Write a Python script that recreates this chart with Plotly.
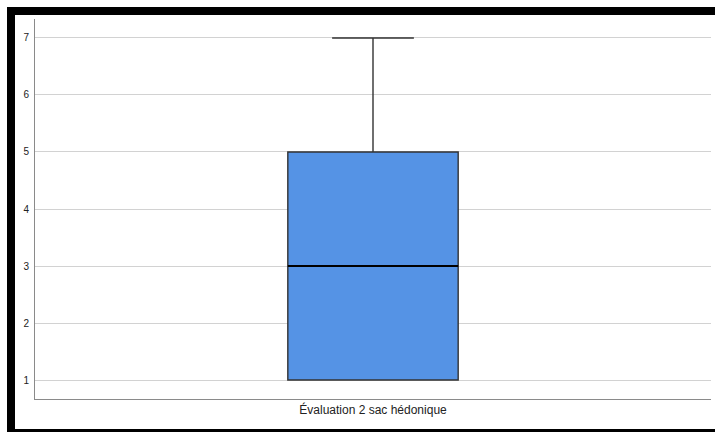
import plotly.graph_objects as go

category = ["Évaluation 2 sac hédonique"]
q1 = [1]
median = [3]
q3 = [5]
lower_fence = [1]
upper_fence = [7]
y_ticks = [1, 2, 3, 4, 5, 6, 7]

W, H = 715, 432
L, R, T, B = 35, 4, 19, 33
pw, ph = W - L - R, H - T - B
BOX_W = 0.252

def px_x(p):
    return (p - L) / pw

def px_y(p):
    return (H - B - p) / ph

fig = go.Figure()
fig.add_trace(go.Box(
    x=category,
    q1=q1, median=median, q3=q3,
    lowerfence=lower_fence, upperfence=upper_fence,
    fillcolor="#5593E5",
    line=dict(color="#333333", width=1.4),
    width=BOX_W,
    whiskerwidth=0.48,
    boxpoints=False,
    hoverinfo="skip",
))

frame = "#000000"
shapes = [
    # median line emphasised (black, thicker), from the data value
    dict(type="line", xref="x", yref="y", x0=-BOX_W / 2, x1=BOX_W / 2, y0=median[0], y1=median[0],
         line=dict(color="#000000", width=2.2), layer="above"),
    dict(type="rect", xref="paper", yref="paper", x0=px_x(7), x1=px_x(716), y0=px_y(15), y1=px_y(7),
         fillcolor=frame, line=dict(width=0), layer="above"),
    dict(type="rect", xref="paper", yref="paper", x0=px_x(7), x1=px_x(15), y0=px_y(433), y1=px_y(7),
         fillcolor=frame, line=dict(width=0), layer="above"),
    dict(type="rect", xref="paper", yref="paper", x0=px_x(7), x1=px_x(716), y0=px_y(433), y1=px_y(429),
         fillcolor=frame, line=dict(width=0), layer="above"),
]

fig.update_layout(
    width=W, height=H,
    margin=dict(l=L, r=R, t=T, b=B),
    paper_bgcolor="white",
    plot_bgcolor="white",
    showlegend=False,
    shapes=shapes,
    font=dict(family="Liberation Sans, Arial, sans-serif", color="#222"),
    xaxis=dict(
        type="category",
        range=[-0.5, 0.5],
        showgrid=False,
        showline=True, linecolor="#8a8a8a", linewidth=1,
        ticks="",
        tickfont=dict(size=12, color="#222"),
        zeroline=False,
        fixedrange=True,
    ),
    yaxis=dict(
        range=[0.667, 7.333],
        tickvals=y_ticks,
        ticktext=[str(v) for v in y_ticks],
        showgrid=True, gridcolor="#d2d2d2", gridwidth=1,
        showline=True, linecolor="#8a8a8a", linewidth=1,
        ticks="outside", ticklen=3, tickcolor="rgba(0,0,0,0)",
        tickfont=dict(size=10, color="#222"),
        zeroline=False,
        fixedrange=True,
    ),
)

fig.write_html(
    "out.html",
    config={"displayModeBar": False},
    post_script="document.body.style.margin='0';document.body.style.padding='0';document.body.style.overflow='hidden';",
)
